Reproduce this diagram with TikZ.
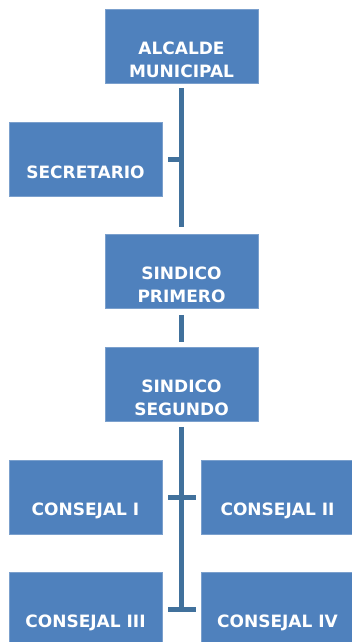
\documentclass[tikz,border=0pt]{standalone}
\usepackage{fontspec}
\setmainfont{DejaVu Sans}
\definecolor{boxblue}{HTML}{4F81BD}
\definecolor{lineblue}{HTML}{41719C}
\begin{document}
\begin{tikzpicture}[x=1pt,y=-1pt,
  orgbox/.style={fill=boxblue, draw=boxblue!75!white, line width=0.6pt, minimum width=153pt, minimum height=74pt, inner sep=0pt},
  lbl/.style={text=white, font=\fontsize{17}{22.5}\selectfont\bfseries, align=center, inner sep=0pt},
  conn/.style={draw=lineblue, line width=5pt}]
\useasboundingbox (0,0) rectangle (352,642);
\clip (0,0) rectangle (352,642);
% boxes
\node[orgbox] (alc) at (181.5,46) {};
\node[orgbox] (sec) at (85.5,159) {};
\node[orgbox] (sp) at (181.5,271.5) {};
\node[orgbox] (ss) at (181.5,384.5) {};
\node[orgbox] (c1) at (85.5,497.5) {};
\node[orgbox] (c2) at (277.5,497.5) {};
\node[orgbox] (c3) at (85.5,609.5) {};
\node[orgbox] (c4) at (277.5,609.5) {};
% texts
\node[lbl] (alct) at ([yshift=-14pt]alc.center) {ALCALDE\\MUNICIPAL};
\node[lbl] (sect) at ([yshift=-13pt]sec.center) {SECRETARIO};
\node[lbl] (spt) at ([yshift=-13.5pt]sp.center) {SINDICO\\PRIMERO};
\node[lbl] (sst) at ([yshift=-13.5pt]ss.center) {SINDICO\\SEGUNDO};
\node[lbl] (c1t) at ([yshift=-13.5pt]c1.center) {CONSEJAL I};
\node[lbl] (c2t) at ([yshift=-13.5pt]c2.center) {CONSEJAL II};
\node[lbl] (c3t) at ([yshift=-13.5pt]c3.center) {CONSEJAL III};
\node[lbl] (c4t) at ([yshift=-13.5pt]c4.center) {CONSEJAL IV};
% connectors
\draw[conn] ([yshift=-5pt]alc.south) -- ([yshift=7pt]sp.north);
\draw[conn] ([xshift=6pt]sec.east) -- (sec.east -| alc.south);
\draw[conn] ([yshift=-6pt]sp.south) -- ([yshift=5pt]ss.north);
\draw[conn] ([yshift=-5pt]ss.south) -- ([yshift=-2.5pt]ss.south |- c3.east);
\draw[conn] ([xshift=6pt]c1.east) -- ([xshift=-5pt]c2.west);
\draw[conn] ([xshift=6pt]c3.east) -- ([xshift=-5pt]c4.west);
\end{tikzpicture}
\end{document}
